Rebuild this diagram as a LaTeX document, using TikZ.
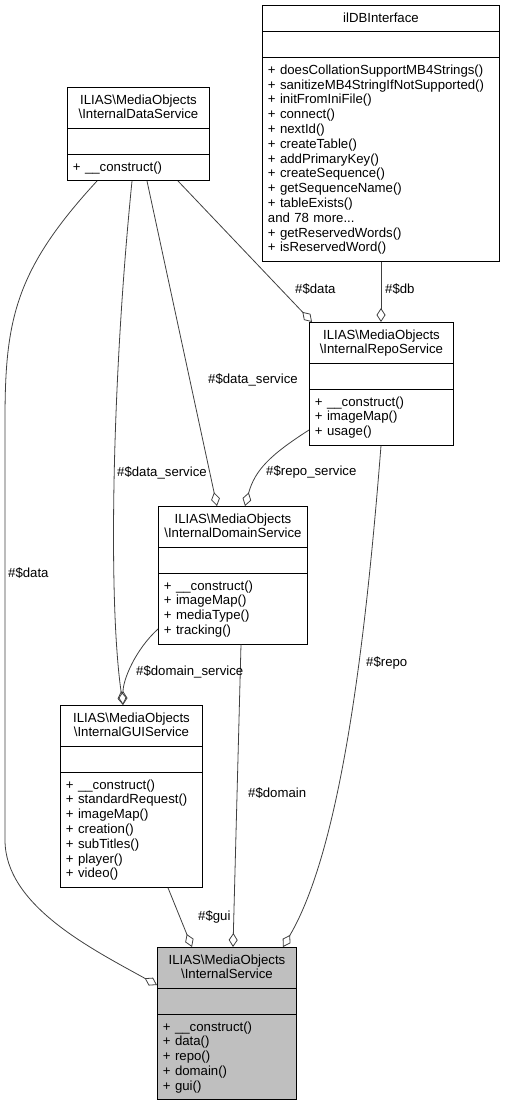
\documentclass[tikz,border=0pt]{standalone}
\usepackage{fontspec}
\setmainfont{Liberation Sans}
\usetikzlibrary{shapes.multipart,arrows.meta,calc}

\definecolor{edgegray}{HTML}{404040}
\definecolor{boxgray}{HTML}{BFBFBF}
\newcommand{\clsstrut}{\rule[-3.8pt]{0pt}{14.8pt}}

\tikzset{
  umlclass/.style={rectangle split, rectangle split parts=3, draw=black, line width=0.9pt,
    anchor=north west, inner xsep=5.5pt, inner ysep=5.2pt,
    font=\fontsize{13.2}{14.8}\selectfont},
  agg/.style={draw=edgegray, line width=0.8pt,
    -{Diamond[open, length=14pt, width=9pt, line width=0.8pt]}},
  lbl/.style={anchor=west, inner sep=0pt, font=\fontsize{13.2}{14.8}\selectfont}
}

\begin{document}
\begin{tikzpicture}[x=1pt, y=-1pt]
\useasboundingbox (0,0) rectangle (505,1103);

% classes
\node[umlclass, text width=131pt] (data) at (67,87)
  {\centering\clsstrut ILIAS\textbackslash MediaObjects\\\textbackslash InternalDataService\clsstrut\par
   \nodepart{second}\clsstrut
   \nodepart{third}\raggedright\clsstrut + \_\_construct()\clsstrut};

\node[umlclass, text width=226pt] (db) at (262,5)
  {\centering\clsstrut ilDBInterface\clsstrut\par
   \nodepart{second}\clsstrut
   \nodepart{third}\raggedright\clsstrut + doesCollationSupportMB4Strings()\\
   + sanitizeMB4StringIfNotSupported()\\
   + initFromIniFile()\\
   + connect()\\
   + nextId()\\
   + createTable()\\
   + addPrimaryKey()\\
   + createSequence()\\
   + getSequenceName()\\
   + tableExists()\\
   and 78 more...\\
   + getReservedWords()\\
   + isReservedWord()\clsstrut};

\node[umlclass, text width=133pt] (repo) at (309,322)
  {\centering\clsstrut ILIAS\textbackslash MediaObjects\\\textbackslash InternalRepoService\clsstrut\par
   \nodepart{second}\clsstrut
   \nodepart{third}\raggedright\clsstrut + \_\_construct()\\
   + imageMap()\\
   + usage()\clsstrut};

\node[umlclass, text width=138pt] (domain) at (158,506)
  {\centering\clsstrut ILIAS\textbackslash MediaObjects\\\textbackslash InternalDomainService\clsstrut\par
   \nodepart{second}\clsstrut
   \nodepart{third}\raggedright\clsstrut + \_\_construct()\\
   + imageMap()\\
   + mediaType()\\
   + tracking()\clsstrut};

\node[umlclass, text width=131pt] (gui) at (60,705)
  {\centering\clsstrut ILIAS\textbackslash MediaObjects\\\textbackslash InternalGUIService\clsstrut\par
   \nodepart{second}\clsstrut
   \nodepart{third}\raggedright\clsstrut + \_\_construct()\\
   + standardRequest()\\
   + imageMap()\\
   + creation()\\
   + subTitles()\\
   + player()\\
   + video()\clsstrut};

\node[umlclass, text width=128pt, fill=boxgray] (internal) at (157,947)
  {\centering\clsstrut ILIAS\textbackslash MediaObjects\\\textbackslash InternalService\clsstrut\par
   \nodepart{second}\clsstrut
   \nodepart{third}\raggedright\clsstrut + \_\_construct()\\
   + data()\\
   + repo()\\
   + domain()\\
   + gui()\clsstrut};

% aggregations
\draw[agg] ($(data.south west)+(30,0)$) .. controls (15,270) and (5,320) .. (5,420)
  -- (5,840) .. controls (5,905) and (90,948) .. ($(internal.north west)+(0,38)$);
\draw[agg] ($(data.south west)+(65,0)$) .. controls (112,380) and (108,600) .. ($(gui.north west)+(63,0)$);
\draw[agg] ($(data.south west)+(80,0)$) -- ($(domain.north west)+(59,0)$);
\draw[agg] ($(data.south west)+(111,0)$) -- ($(repo.north west)+(3,0)$);
\draw[agg] ($(db.south west)+(119,0)$) -- ($(repo.north west)+(72,0)$);
\draw[agg] ($(repo.north west)+(0,108)$) .. controls (270,455) and (255,470) .. ($(domain.north west)+(87,0)$);
\draw[agg] ($(repo.south west)+(72,0)$) .. controls (365,650) and (340,850) .. ($(internal.north west)+(126,0)$);
\draw[agg] ($(domain.north west)+(0,123)$) .. controls (135,650) and (123,680) .. ($(gui.north west)+(63,0)$);
\draw[agg] ($(domain.south west)+(83,0)$) -- ($(internal.north west)+(76,0)$);
\draw[agg] ($(gui.south west)+(108,0)$) -- ($(internal.north west)+(35,0)$);

% labels
\node[lbl] (l-data) at (8,573) {\#\$data};
\node[lbl] (l-dsvc-gui) at (117,473) {\#\$data\_service};
\node[lbl] (l-dsvc-dom) at (208,380) {\#\$data\_service};
\node[lbl] (l-data-repo) at (295,289) {\#\$data};
\node[lbl] (l-db) at (385,289) {\#\$db};
\node[lbl] (l-rsvc) at (266,472) {\#\$repo\_service};
\node[lbl] (l-repo) at (366,663) {\#\$repo};
\node[lbl] (l-domsvc) at (136,672) {\#\$domain\_service};
\node[lbl] (l-domain) at (248,793) {\#\$domain};
\node[lbl] (l-gui) at (198,917) {\#\$gui};
\end{tikzpicture}
\end{document}
